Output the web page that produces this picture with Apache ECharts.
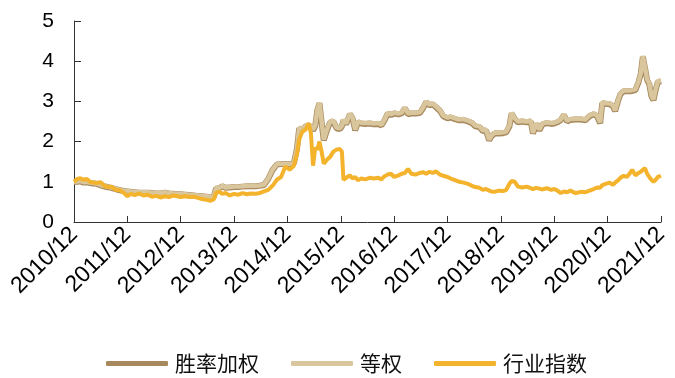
<!DOCTYPE html>
<html>
<head>
<meta charset="utf-8">
<script src="https://cdn.jsdelivr.net/npm/echarts@6/dist/echarts.min.js"></script>
<style>
html,body{margin:0;padding:0;background:#fff;}
#main{width:675px;height:378px;}
</style>
</head>
<body>
<div id="main"></div>
<script>
// x 位置：距 2010/12 的年数
var dates = [
	0.00,0.06,0.12,0.18,0.24,0.30,0.36,0.42,0.50,0.56,0.62,0.70,0.78,0.86,0.94,
	1.00,1.06,1.14,1.22,1.30,1.38,1.46,1.54,1.62,1.70,1.78,1.86,1.94,
	2.00,2.08,2.16,2.24,2.32,2.40,2.48,2.56,2.62,2.66,2.72,2.78,2.84,2.92,
	3.00,3.08,3.16,3.24,3.32,3.40,3.48,3.56,3.64,3.72,3.80,3.88,3.96,
	4.04,4.12,4.18,4.22,4.28,4.34,4.40,4.44,4.48,4.52,4.56,4.60,4.64,4.68,4.74,4.80,4.86,4.92,4.98,
	5.02,5.05,5.10,5.17,5.22,5.27,5.32,5.38,5.46,5.54,5.62,5.70,5.76,5.82,5.88,5.94,
	6.00,6.08,6.14,6.20,6.26,6.32,6.40,6.48,6.54,6.60,6.66,6.72,6.78,6.86,6.92,
	7.00,7.06,7.14,7.22,7.30,7.38,7.46,7.52,7.60,7.66,7.72,7.78,7.82,7.88,7.96,
	8.04,8.10,8.16,8.20,8.26,8.32,8.40,8.48,8.56,8.60,8.66,8.72,8.78,8.86,8.94,
	9.00,9.06,9.12,9.18,9.24,9.30,9.40,9.50,9.58,9.66,9.74,9.80,9.86,9.90,9.96,
	10.04,10.10,10.14,10.20,10.24,10.30,10.36,10.42,10.46,10.52,10.58,10.62,10.66,10.70,10.74,10.78,10.82,10.86,10.90,10.94,
	11.00
];
// 等权
var equalW = [
	1.00,1.01,1.02,0.99,1.00,0.98,0.97,0.96,0.92,0.90,0.88,0.86,0.83,0.80,0.78,
	0.77,0.76,0.75,0.74,0.74,0.74,0.73,0.72,0.72,0.74,0.72,0.71,0.70,
	0.70,0.69,0.68,0.67,0.66,0.65,0.64,0.62,0.64,0.84,0.85,0.90,0.86,0.87,
	0.88,0.88,0.89,0.90,0.90,0.90,0.91,0.93,1.08,1.30,1.44,1.45,1.45,
	1.45,1.47,1.85,2.35,2.30,2.40,2.42,2.38,2.30,2.40,2.80,2.97,2.50,2.05,2.30,2.50,2.52,2.35,2.33,
	2.40,2.55,2.45,2.70,2.60,2.30,2.50,2.47,2.46,2.47,2.45,2.46,2.42,2.55,2.72,2.68,
	2.72,2.70,2.72,2.85,2.70,2.72,2.72,2.73,2.85,3.00,2.92,2.95,2.88,2.78,2.65,
	2.60,2.62,2.58,2.55,2.56,2.52,2.48,2.40,2.38,2.28,2.30,2.05,2.15,2.22,2.22,
	2.23,2.25,2.40,2.72,2.58,2.50,2.52,2.50,2.52,2.22,2.46,2.30,2.45,2.48,2.46,
	2.47,2.50,2.55,2.68,2.52,2.56,2.57,2.57,2.55,2.65,2.70,2.65,2.48,2.98,2.96,
	2.95,2.90,2.78,3.05,3.20,3.27,3.27,3.27,3.28,3.30,3.50,3.70,4.13,3.85,3.55,3.45,3.15,3.05,3.30,3.50,
	3.52
];
// 胜率加权
var winW = [
	1.00,1.00,1.01,0.98,0.99,0.97,0.96,0.95,0.91,0.89,0.87,0.85,0.82,0.79,0.77,
	0.76,0.75,0.74,0.73,0.73,0.73,0.72,0.71,0.71,0.73,0.71,0.70,0.69,
	0.69,0.68,0.67,0.66,0.65,0.64,0.63,0.61,0.63,0.83,0.84,0.89,0.85,0.86,
	0.87,0.87,0.88,0.89,0.89,0.89,0.90,0.92,1.07,1.29,1.43,1.44,1.44,
	1.44,1.46,1.84,2.33,2.28,2.38,2.40,2.36,2.28,2.38,2.78,2.95,2.48,2.03,2.28,2.48,2.50,2.33,2.31,
	2.38,2.53,2.43,2.68,2.58,2.28,2.48,2.45,2.44,2.45,2.43,2.44,2.40,2.53,2.70,2.66,
	2.70,2.68,2.70,2.83,2.68,2.70,2.70,2.71,2.83,2.98,2.90,2.93,2.86,2.76,2.63,
	2.58,2.60,2.56,2.53,2.54,2.50,2.46,2.38,2.36,2.26,2.28,2.03,2.13,2.20,2.20,
	2.21,2.23,2.38,2.70,2.56,2.48,2.50,2.48,2.50,2.20,2.44,2.28,2.43,2.46,2.44,
	2.45,2.48,2.53,2.66,2.50,2.54,2.55,2.55,2.53,2.63,2.68,2.63,2.46,2.96,2.94,
	2.93,2.88,2.76,3.03,3.18,3.25,3.25,3.25,3.26,3.28,3.48,3.68,4.11,3.83,3.53,3.43,3.13,3.03,3.28,3.48,
	3.50
];
// 行业指数
var industry = [
	1.00,1.07,1.09,1.05,1.07,1.00,0.98,0.97,0.99,0.91,0.87,0.88,0.80,0.79,0.72,
	0.64,0.70,0.67,0.71,0.66,0.68,0.63,0.65,0.61,0.64,0.62,0.66,0.64,
	0.62,0.64,0.62,0.63,0.60,0.57,0.55,0.53,0.56,0.72,0.76,0.70,0.72,0.66,
	0.70,0.68,0.72,0.69,0.71,0.70,0.72,0.76,0.80,0.90,1.05,1.12,1.38,
	1.30,1.40,1.70,2.05,2.25,2.30,2.45,2.20,1.40,1.85,1.80,2.00,1.75,1.45,1.55,1.62,1.75,1.80,1.82,
	1.75,1.05,1.10,1.16,1.08,1.12,1.04,1.08,1.06,1.10,1.08,1.10,1.06,1.14,1.18,1.20,
	1.12,1.16,1.20,1.22,1.32,1.20,1.18,1.22,1.24,1.20,1.25,1.22,1.26,1.18,1.15,
	1.12,1.08,1.04,1.00,0.98,0.95,0.90,0.87,0.85,0.80,0.82,0.78,0.76,0.75,0.78,
	0.77,0.80,0.95,1.02,1.00,0.88,0.86,0.88,0.84,0.82,0.85,0.83,0.81,0.84,0.80,
	0.82,0.78,0.72,0.76,0.74,0.78,0.72,0.75,0.74,0.78,0.82,0.86,0.85,0.92,0.95,
	0.98,0.92,0.98,1.04,1.10,1.15,1.12,1.22,1.30,1.16,1.22,1.25,1.30,1.34,1.20,1.12,1.05,1.00,1.05,1.12,
	1.15
];

function pairs(xs, ys) {
	var out = [];
	for (var i = 0; i < xs.length; i++) out.push([xs[i], ys[i]]);
	return out;
}

var myChart = echarts.init(document.getElementById('main'));
var axisColor = '#333';
var option = {
	animation: false,
	color: ['#A8895E', '#D9C69C', '#F4B32C'],
	grid: {
		left: 74,
		right: 14,
		top: 21,
		bottom: 156,
		containLabel: false
	},
	legend: {
		left: 101,
		top: 348,
		itemWidth: 62,
		itemHeight: 5,
		itemGap: 32,
		icon: 'roundRect',
		textStyle: {
			fontFamily: 'Noto Sans CJK SC',
			fontSize: 21,
			color: '#111',
			padding: [0, 0, 0, 2]
		},
		data: ['胜率加权', '等权', '行业指数']
	},
	xAxis: {
		type: 'value',
		min: 0,
		max: 11,
		interval: 1,
		splitLine: { show: false },
		axisLine: { lineStyle: { color: axisColor, width: 1 } },
		axisTick: { inside: true, length: 6, lineStyle: { color: axisColor } },
		axisLabel: {
			rotate: 45,
			margin: 9,
			fontFamily: 'Liberation Sans',
			fontSize: 23,
			color: '#000',
			formatter: function(v) { return (2010 + v) + '/12'; }
		}
	},
	yAxis: {
		type: 'value',
		min: 0,
		max: 5,
		interval: 1,
		splitLine: { show: false },
		axisLine: { show: true, lineStyle: { color: axisColor, width: 1 } },
		axisTick: { show: true, inside: true, length: 7, lineStyle: { color: axisColor } },
		axisLabel: {
			margin: 20,
			fontFamily: 'Liberation Sans',
			fontSize: 21,
			color: '#000'
		}
	},
	series: [{
		name: '胜率加权',
		type: 'line',
		showSymbol: false,
		lineStyle: { width: 6 },
		data: pairs(dates, winW)
	}, {
		name: '等权',
		type: 'line',
		showSymbol: false,
		lineStyle: { width: 4.5 },
		data: pairs(dates, equalW)
	}, {
		name: '行业指数',
		type: 'line',
		showSymbol: false,
		lineStyle: { width: 4 },
		data: pairs(dates, industry)
	}]
};
myChart.setOption(option);
</script>
</body>
</html>
